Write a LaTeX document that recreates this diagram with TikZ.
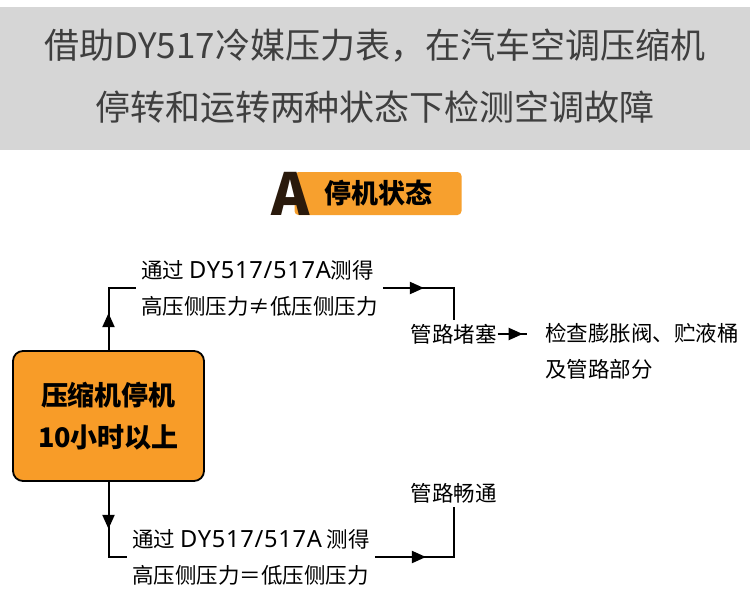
\documentclass[tikz,border=0pt]{standalone}
\usepackage{fontspec}
\setmainfont{Noto Sans CJK SC}
\newfontfamily\latinwide[Scale=1.1, LetterSpace=3]{Noto Sans}
\usetikzlibrary{arrows.meta,decorations.markings}
\definecolor{bandgray}{HTML}{D6D6D6}
\definecolor{titlegray}{HTML}{3F3F3F}
\definecolor{boxorange}{HTML}{F89C28}
\definecolor{tagorange}{HTML}{F7A02E}
\definecolor{letterbrown}{HTML}{2A1A0C}
\newcommand{\meter}{{\latinwide DY517/517A}}
\tikzset{
  flowtext/.style={font=\fontsize{21.5}{36}\selectfont, align=left, inner sep=0pt},
  result/.style={font=\fontsize{21.5}{36}\selectfont, inner xsep=1pt, inner ysep=4pt},
  link/.style={line width=2pt},
  midtip/.style={postaction={decorate}, decoration={markings,
      mark=at position #1 with {\arrow{Triangle[length=14pt,width=12pt]}}}},
}
\begin{document}
\begin{tikzpicture}[x=1pt, y=-1pt]
    % --- page and header band ---
    \useasboundingbox (0,0) rectangle (750,610);
    \fill[white] (0,0) rectangle (750,610);
    \fill[bandgray] (0,7) rectangle (750,150);
    \node[font=\fontsize{35}{62}\selectfont, text=titlegray, align=center] (title) at (375,76)
      {借助DY517冷媒压力表，在汽车空调压缩机\\停转和运转两种状态下检测空调故障};

    % --- section tag ---
    \node[fill=tagorange, rounded corners=4pt, minimum width=167pt, minimum height=43pt,
      inner sep=0pt, font=\bfseries\fontsize{27}{27}\selectfont] (tag) at (378,193.5) {停机状态};
    \node[font=\bfseries\fontsize{58}{58}\selectfont, text=letterbrown, inner sep=0pt]
      (letterA) at (291,194) {A};

    % --- start box ---
    \node[draw=black, line width=1.8pt, fill=boxorange, rounded corners=10pt,
      minimum width=191pt, minimum height=130pt, align=center,
      font=\bfseries\fontsize{27}{42}\selectfont] (stop) at (108.5,416)
      {压缩机停机\\10小时以上};

    % --- readings and outcomes ---
    \node[flowtext, inner xsep=5pt, anchor=west] (upTxt) at (136,288)
      {通过 \meter 测得\\高压侧压力≠低压侧压力};
    \node[flowtext, inner xsep=5pt, anchor=west] (lowTxt) at (127,557)
      {通过 \meter\ 测得\\高压侧压力＝低压侧压力};
    \node[result] (blocked) at (453.5,334) {管路堵塞};
    \node[result] (clear) at (453.5,493) {管路畅通};
    \node[flowtext, anchor=north west] (check) at (545,323)
      {检查膨胀阀、贮液桶\\及管路部分};
    \coordinate (checkIn) at (527,334);

    % --- connectors ---
    \draw[link, midtip=37pt] (stop.north) |- (upTxt.west);
    \draw[link, midtip=41pt] (upTxt.east) -| (blocked.north);
    \draw[link, midtip=47pt] (stop.south) |- (lowTxt.west);
    \draw[link, midtip=51pt] (lowTxt.east) -| (clear.south);
    \draw[link, midtip=25pt] (blocked.east) -- (checkIn);
\end{tikzpicture}
\end{document}
